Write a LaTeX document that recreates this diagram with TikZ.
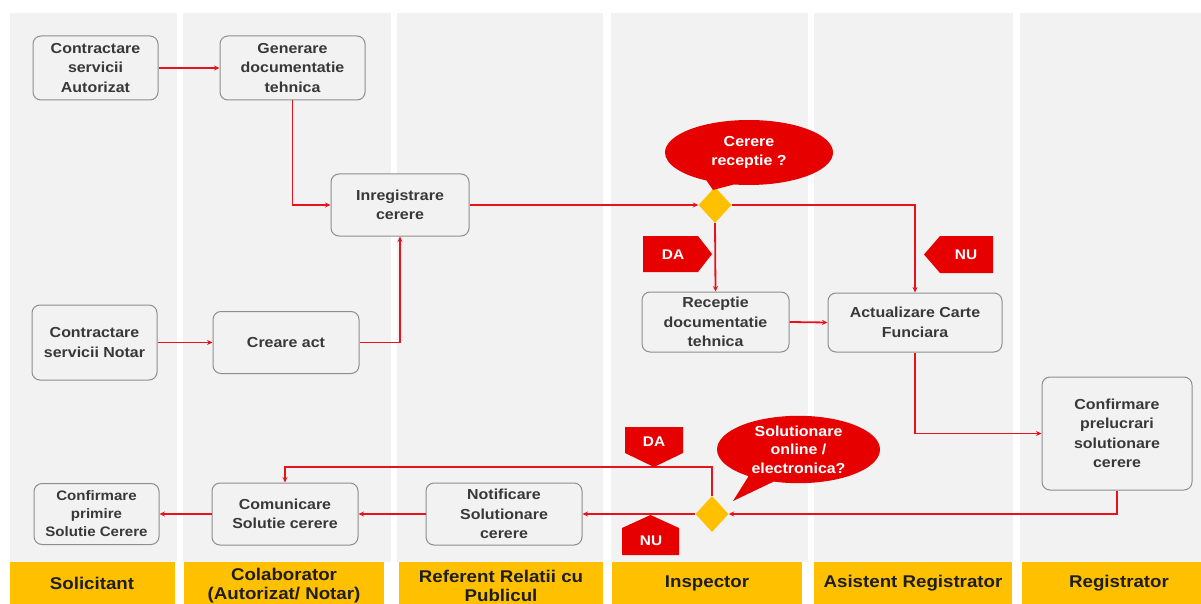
\documentclass[tikz,border=0pt]{standalone}
\usepackage{fontspec}
\setmainfont{Liberation Sans}[FakeStretch=1.1]
\usetikzlibrary{shapes.geometric,shapes.callouts,arrows.meta}
\definecolor{lanegray}{HTML}{F2F2F2}
\definecolor{boxgray}{HTML}{8E8E8E}
\definecolor{textgray}{HTML}{383838}
\definecolor{linered}{HTML}{E8121C}
\definecolor{bubred}{HTML}{E60000}
\definecolor{gold}{HTML}{FFC000}
\definecolor{hdrtext}{HTML}{1E1E1E}
\begin{document}
\begin{tikzpicture}[x=1pt,y=-1pt,
  lane/.style={fill=lanegray},
  hbar/.style={fill=gold},
  hdr/.style={text=hdrtext,font=\bfseries\fontsize{17}{19}\selectfont,align=center,inner sep=0},
  box/.style={draw=boxgray,line width=1pt,rounded corners=8pt,fill=lanegray,text=textgray,
    font=\bfseries\fontsize{14.5}{19.5}\selectfont,align=center,inner sep=2pt},
  smallbox/.style={box,font=\bfseries\fontsize{13.7}{18}\selectfont},
  arr/.style={draw=linered,line width=1.8pt,-{Stealth[length=5.5pt,width=5pt]}},
  dec/.style={diamond,fill=gold,minimum width=33pt,minimum height=36pt,inner sep=0},
  bubble/.style={ellipse callout,fill=bubred,text=white,callout pointer arc=20,
    font=\bfseries\fontsize{14.5}{18.5}\selectfont,align=center,inner sep=0},
  tagtxt/.style={text=white,font=\bfseries\fontsize{14}{16}\selectfont,inner sep=0}]
\useasboundingbox (0,0) rectangle (1201,604);
\fill[white] (0,0) rectangle (1201,604);
% lanes
\fill[lane] (10,13) rectangle (177,562);
\fill[lane] (183,13) rectangle (391,562);
\fill[lane] (397,13) rectangle (603,562);
\fill[lane] (611,13) rectangle (808,562);
\fill[lane] (814,13) rectangle (1013,562);
\fill[lane] (1020,13) rectangle (1201,562);
% header bars
\fill[hbar] (10,562) rectangle (175,604);
\fill[hbar] (184,562) rectangle (384,604);
\fill[hbar] (399,562) rectangle (603,604);
\fill[hbar] (612,562) rectangle (802,604);
\fill[hbar] (814,562) rectangle (1012,604);
\fill[hbar] (1022,562) rectangle (1201,604);
\node[hdr] (h1) at (92,583) {Solicitant};
\node[hdr] (h2) at (284,586) {Colaborator\\(Autorizat/ Notar)};
\node[hdr] (h3) at (501,586) {Referent Relatii cu\\Publicul};
\node[hdr] (h4) at (707,583) {Inspector};
\node[hdr] (h5) at (913,583) {Asistent Registrator};
\node[hdr] (h6) at (1119,583) {Registrator};
% boxes
\node[box,minimum width=125pt,minimum height=64pt] (cas) at (95.5,68) {Contractare\\servicii\\Autorizat};
\node[box,minimum width=145pt,minimum height=64pt] (gen) at (292.5,68) {Generare\\documentatie\\tehnica};
\node[box,minimum width=138pt,minimum height=62pt] (inr) at (400,205) {Inregistrare\\cerere};
\node[box,minimum width=125pt,minimum height=75pt] (cn) at (94.5,342.5) {Contractare\\servicii Notar};
\node[box,minimum width=146pt,minimum height=62pt] (ca) at (286,342.5) {Creare act};
\node[box,minimum width=147pt,minimum height=60pt] (rec) at (715.5,322) {Receptie\\documentatie\\tehnica};
\node[box,minimum width=174pt,minimum height=59pt] (act) at (915,322.5) {Actualizare Carte\\Funciara};
\node[box,minimum width=150pt,minimum height=113pt] (conf) at (1117,433.5) {Confirmare\\prelucrari\\solutionare\\cerere};
\node[smallbox,minimum width=125pt,minimum height=61pt] (cpr) at (96.5,514) {Confirmare\\primire\\Solutie Cerere};
\node[box,minimum width=146pt,minimum height=62pt] (com) at (285,514) {Comunicare\\Solutie cerere};
\node[box,minimum width=156pt,minimum height=62pt] (notif) at (504,514) {Notificare\\Solutionare\\cerere};
% decisions
\node[dec] (d1) at (715,205) {};
\node[dec] (d2) at (712,514) {};
% bubbles
\coordinate (t1) at (713,190);
\coordinate (t2) at (733,501);
\node[bubble,minimum width=168pt,minimum height=65pt,callout absolute pointer={(t1)}] (b1) at (749,152.5) {Cerere\\receptie ?};
\node[bubble,minimum width=163pt,minimum height=67pt,callout absolute pointer={(t2)}] (b2) at (798.5,449.5) {Solutionare\\online /\\electronica?};
% connectors
\coordinate (dabend) at (712,467);
\draw[arr] (cas.east) -- (gen.west);
\draw[arr] (gen.south) |- (inr.west);
\draw[arr] (cn.east) -- (ca.west);
\draw[arr] (ca.east) -| (inr.south);
\draw[arr] (inr.east) -- (d1.west);
\draw[arr] (d1.south) -- (rec.north);
\draw[arr] (d1.east) -| (act.north);
\draw[arr] (rec.east) -- (act.west);
\draw[arr] (act.south) |- (conf.west);
\draw[arr] (conf.south) |- (d2.east);
\draw[arr] (d2.north) -- (dabend) -| (com.north);
\draw[arr] (d2.west) -- (notif.east);
\draw[arr] (notif.west) -- (com.east);
\draw[arr] (com.west) -- (cpr.east);
% tags
\fill[bubred] (643,236) -- (698,236) -- (712,254) -- (698,272) -- (643,272) -- cycle;
\node[tagtxt] (da1) at (673,255) {DA};
\fill[bubred] (924,254.5) -- (940,236) -- (993,236) -- (993,273) -- (940,273) -- cycle;
\node[tagtxt] (nu1) at (966,255) {NU};
\fill[bubred] (625,427) -- (683,427) -- (683,453) -- (654,467) -- (625,453) -- cycle;
\node[tagtxt] (da2) at (654,442) {DA};
\fill[bubred] (650.5,515) -- (679,528) -- (679,555) -- (622,555) -- (622,528) -- cycle;
\node[tagtxt] (nu2) at (651,541) {NU};
\end{tikzpicture}
\end{document}
